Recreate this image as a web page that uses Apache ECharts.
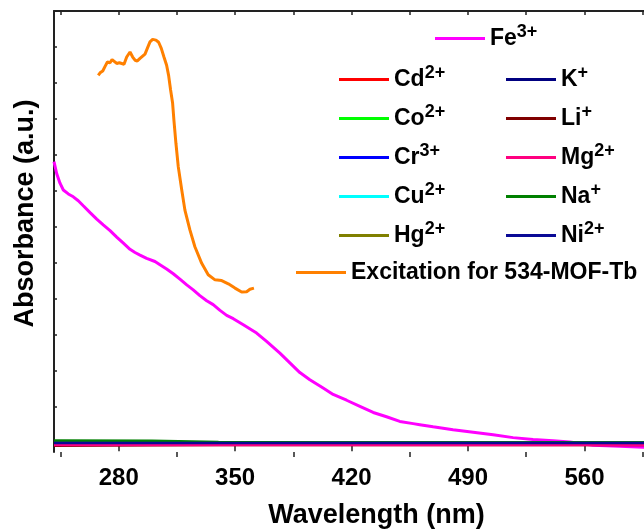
<!DOCTYPE html>
<html>
<head>
<meta charset="utf-8">
<style>
  html, body { margin: 0; padding: 0; background: #fff; }
  #chart { width: 644px; height: 531px; }
</style>
<script src="https://cdn.jsdelivr.net/npm/echarts@6/dist/echarts.min.js"></script>
</head>
<body>
<div id="chart"></div>
<script>
// Fe3+ absorbance spectrum
const feWavelength = [241.1, 242.7, 244.7, 246.7, 249.7, 252.7, 255.7, 258.7, 262.8, 266.8, 270.7, 274.8, 278.8, 282.8, 286.8, 289.8, 292.8, 296.8, 301.8, 304.8, 308.8, 312.8, 316.8, 320.9, 324.8, 328.8, 332.9, 336.8, 340.9, 344.9, 348.9, 354.9, 362.9, 368.9, 376.9, 382.9, 388.9, 394.9, 402.9, 408.9, 417.0, 425.0, 433.0, 441.0, 449.0, 457.0, 461.0, 469.0, 481.0, 493.1, 505.1, 517.1, 529.1, 541.1, 551.2, 565.2, 581.2, 595.6, 600];
const feAbs = [0.781, 0.748, 0.721, 0.702, 0.691, 0.683, 0.672, 0.658, 0.639, 0.621, 0.605, 0.589, 0.571, 0.554, 0.537, 0.528, 0.521, 0.512, 0.503, 0.494, 0.482, 0.469, 0.454, 0.438, 0.424, 0.408, 0.394, 0.383, 0.367, 0.353, 0.344, 0.327, 0.304, 0.281, 0.248, 0.221, 0.194, 0.174, 0.151, 0.133, 0.117, 0.100, 0.083, 0.071, 0.058, 0.052, 0.049, 0.043, 0.035, 0.028, 0.021, 0.013, 0.0075, 0.004, 0.001, -0.008, -0.011, -0.014, -0.015];

// Excitation spectrum of 534-MOF-Tb
const excWavelength = [267.7, 268.8, 270.4, 271.8, 273.2, 274.8, 276.0, 277.2, 278.8, 280.4, 281.6, 283.2, 284.8, 286.8, 288.4, 289.8, 291.2, 292.8, 295.8, 297.2, 298.8, 300.4, 302.4, 304.0, 305.6, 307.2, 308.8, 310.0, 311.2, 312.4, 313.2, 314.4, 315.8, 317.9, 319.8, 322.8, 325.8, 329.9, 333.8, 337.9, 341.9, 345.9, 349.9, 353.9, 356.9, 358.9, 361.3];
const excIntensity = [1.021, 1.028, 1.033, 1.046, 1.058, 1.056, 1.065, 1.061, 1.054, 1.056, 1.051, 1.052, 1.072, 1.086, 1.072, 1.063, 1.061, 1.068, 1.080, 1.096, 1.114, 1.121, 1.119, 1.113, 1.096, 1.072, 1.049, 1.021, 0.980, 0.944, 0.896, 0.832, 0.767, 0.702, 0.646, 0.591, 0.544, 0.498, 0.466, 0.452, 0.450, 0.441, 0.429, 0.418, 0.419, 0.426, 0.429];

// Other metal ions: nearly flat absorbance
const flatWavelength = [241.1, 300, 340, 400, 500, 600];
const cdAbs = [-0.006, -0.006, -0.006, -0.006, -0.006, -0.006];
const coAbs = [-0.001, -0.001, -0.001, -0.001, -0.001, -0.001];
const crAbs = [-0.003, -0.003, -0.003, -0.003, -0.003, -0.003];
const cuAbs = [-0.002, -0.002, -0.002, -0.002, -0.002, -0.002];
const hgAbs = [-0.0015, -0.0015, -0.0015, -0.0015, -0.0015, -0.0015];
const kAbs = [-0.001, -0.001, -0.001, -0.001, -0.001, -0.001];
const liAbs = [-0.0095, -0.008, -0.0075, -0.0075, -0.0075, -0.0075];
const mgAbs = [-0.0075, -0.0075, -0.0075, -0.0075, -0.0075, -0.0075];
const naAbs = [0.0053, 0.0042, 0.0006, -0.0008, -0.0008, -0.0008];
const niAbs = [-0.0022, -0.0022, -0.0022, -0.0022, -0.0022, -0.0022];

// Axis ticks
const majorTicks = [280, 350, 420, 490, 560];
const minorTicks = [245, 315, 385, 455, 525, 595];
const topTicks = [245, 280, 315, 350, 385, 420, 455, 490, 525, 560, 595];
const yTicks = [0, 0.1, 0.2, 0.3, 0.4, 0.5, 0.6, 0.7, 0.8, 0.9, 1.0, 1.1, 1.2];

const seriesNames = ['Fe3+', 'Cd2+', 'Co2+', 'Cr3+', 'Cu2+', 'Hg2+', 'K+', 'Li+', 'Mg2+', 'Na+', 'Ni2+', 'Excitation for 534-MOF-Tb'];
const seriesColors = ['#ff00ff', '#ff0000', '#00ff00', '#0000ff', '#00ffff', '#808000', '#000080', '#800000', '#ff0080', '#008000', '#0a0a96', '#ff8000'];
const flatValues = [cdAbs, coAbs, crAbs, cuAbs, hgAbs, kAbs, liAbs, mgAbs, naAbs, niAbs];

const zip = (xs, ys) => xs.map((x, i) => [x, ys[i]]);

const FONT = '"Liberation Sans", Arial, Helvetica, sans-serif';
const AXIS_COLOR = '#222';

const series = [];
series.push({ name: seriesNames[0], data: zip(feWavelength, feAbs), width: 3 });
flatValues.forEach((vals, i) => series.push({ name: seriesNames[i + 1], data: zip(flatWavelength, vals), width: 2.5 }));
series.push({ name: seriesNames[11], data: zip(excWavelength, excIntensity), width: 3 });

// Legend placement: [left of line sample, vertical centre]
const legendSpots = {
  'Fe3+': [435, 40],
  'Cd2+': [339, 81], 'Co2+': [339, 120], 'Cr3+': [339, 159], 'Cu2+': [339, 198], 'Hg2+': [339, 237],
  'K+': [506, 81], 'Li+': [506, 120], 'Mg2+': [506, 159], 'Na+': [506, 198], 'Ni2+': [506, 237],
  'Excitation for 534-MOF-Tb': [296, 278]
};
const LEGEND_LINE_H = 34;

function legendLabel(name) {
  const m = name.match(/^([A-Za-z]+)(\d*[+-])$/);
  if (!m) return '{b|' + name + '}';
  return '{b|' + m[1] + '}{s|' + m[2] + '}';
}

const legends = seriesNames.map((name) => ({
  data: [name],
  left: legendSpots[name][0],
  top: legendSpots[name][1] - LEGEND_LINE_H / 2,
  padding: 0,
  icon: 'rect',
  itemWidth: 50,
  itemHeight: 3,
  selectedMode: false,
  formatter: legendLabel,
  textStyle: {
    color: '#000',
    fontFamily: FONT,
    fontWeight: 'bold',
    rich: {
      b: { fontSize: 23, fontWeight: 'bold', fontFamily: FONT, color: '#000' },
      s: { fontSize: 18, fontWeight: 'bold', fontFamily: FONT, color: '#000', padding: [0, 0, 13, 0] }
    }
  }
}));

const chart = echarts.init(document.getElementById('chart'), null, { renderer: 'canvas' });
chart.setOption({
  animation: false,
  backgroundColor: '#ffffff',
  grid: { left: 54, right: -7, top: 11, bottom: 79, containLabel: false, outerBoundsMode: 'none' },
  legend: legends,
  xAxis: [
    {
      type: 'value', min: 241.1, max: 600, position: 'bottom',
      name: 'Wavelength (nm)', nameLocation: 'middle', nameGap: 50,
      nameTextStyle: { fontSize: 27, fontWeight: 'bold', fontFamily: FONT, color: '#000', padding: [0, 0, 0, 48] },
      axisLine: { show: true, lineStyle: { color: AXIS_COLOR, width: 2 } },
      axisTick: { show: true, inside: false, length: 9, customValues: majorTicks, lineStyle: { color: AXIS_COLOR, width: 1.5 } },
      axisLabel: { show: true, customValues: majorTicks, margin: 14, fontSize: 24, fontWeight: 'bold', fontFamily: FONT, color: '#000' },
      splitLine: { show: false }
    },
    {
      type: 'value', min: 241.1, max: 600, position: 'bottom', offset: 0,
      axisLine: { show: false },
      axisTick: { show: true, inside: false, length: 5, customValues: minorTicks, lineStyle: { color: AXIS_COLOR, width: 1.5 } },
      axisLabel: { show: false },
      splitLine: { show: false }
    },
    {
      type: 'value', min: 241.1, max: 600, position: 'top',
      axisLine: { show: true, lineStyle: { color: AXIS_COLOR, width: 2 } },
      axisTick: { show: true, inside: true, length: 4, customValues: topTicks, lineStyle: { color: AXIS_COLOR, width: 1.5 } },
      axisLabel: { show: false },
      splitLine: { show: false }
    }
  ],
  yAxis: {
    type: 'value', min: -0.027, max: 1.2,
    name: 'Absorbance (a.u.)', nameLocation: 'middle', nameGap: 15,
    nameTextStyle: { fontSize: 27, fontWeight: 'bold', fontFamily: FONT, color: '#000', padding: [0, 0, 0, 36] },
    axisLine: { show: true, lineStyle: { color: AXIS_COLOR, width: 2 } },
    axisTick: { show: true, inside: true, length: 3, customValues: yTicks, lineStyle: { color: AXIS_COLOR, width: 1.5 } },
    axisLabel: { show: false },
    splitLine: { show: false }
  },
  series: series.map((s, i) => ({
    type: 'line',
    name: s.name,
    xAxisIndex: 0,
    data: s.data,
    showSymbol: false,
    symbol: 'none',
    smooth: false,
    color: seriesColors[i],
    lineStyle: { color: seriesColors[i], width: s.width },
    z: i === 0 ? 1 : 2
  }))
});
</script>
</body>
</html>
